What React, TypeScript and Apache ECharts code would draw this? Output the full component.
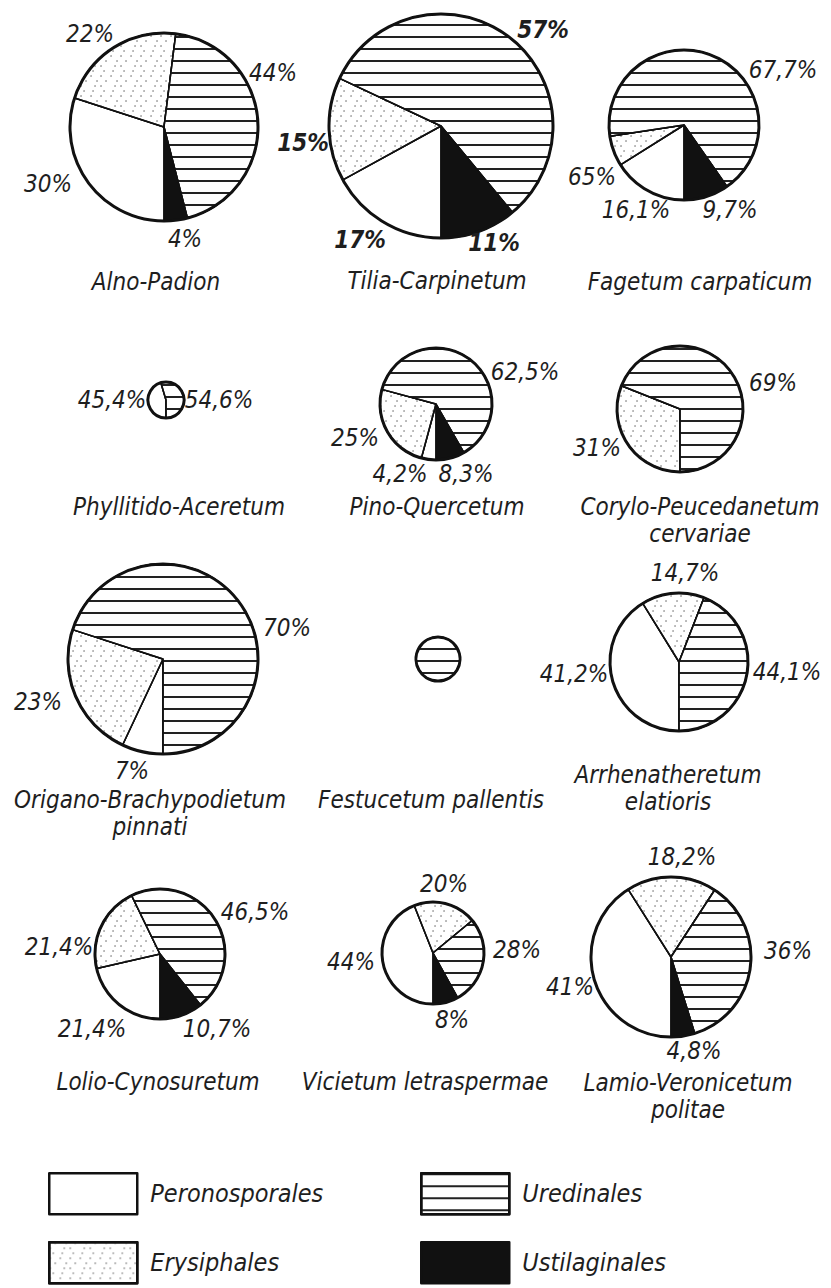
import React, { useEffect, useRef } from 'react';
import * as echarts from 'echarts';

// ---------------- data ----------------
const CATEGORIES = ['Peronosporales', 'Erysiphales', 'Uredinales', 'Ustilaginales'];

const COMMUNITIES = [
  'Alno-Padion',
  'Tilia-Carpinetum',
  'Fagetum carpaticum',
  'Phyllitido-Aceretum',
  'Pino-Quercetum',
  'Corylo-Peucedanetum\ncervariae',
  'Origano-Brachypodietum\npinnati',
  'Festucetum pallentis',
  'Arrhenatheretum\nelatioris',
  'Lolio-Cynosuretum',
  'Vicietum letraspermae',
  'Lamio-Veronicetum\npolitae',
];

const PERONOSPORALES = [30, 17, 16.1, 45.4, 4.2, 0, 7, 0, 41.2, 21.4, 44, 41];
const ERYSIPHALES = [22, 15, 6.5, 0, 25, 31, 23, 0, 14.7, 21.4, 20, 18.2];
const UREDINALES = [44, 57, 67.7, 54.6, 62.5, 69, 70, 100, 44.1, 46.5, 28, 36];
const USTILAGINALES = [4, 11, 9.7, 0, 8.3, 0, 0, 0, 0, 10.7, 8, 4.8];

const PERONOSPORALES_TEXT = ['30%', '17%', '16,1%', '45,4%', '4,2%', '', '7%', '', '41,2%', '21,4%', '44%', '41%'];
const ERYSIPHALES_TEXT = ['22%', '15%', '65%', '', '25%', '31%', '23%', '', '14,7%', '21,4%', '20%', '18,2%'];
const UREDINALES_TEXT = ['44%', '57%', '67,7%', '54,6%', '62,5%', '69%', '70%', '', '44,1%', '46,5%', '28%', '36%'];
const USTILAGINALES_TEXT = ['4%', '11%', '9,7%', '', '8,3%', '', '', '', '', '10,7%', '8%', '4,8%'];

// ---------------- layout (positions / sizes) ----------------
const PIES = [
  { cx: 164, cy: 127, r: 94, bold: false },
  { cx: 441, cy: 126, r: 112, bold: true },
  { cx: 684, cy: 125, r: 75, bold: false },
  { cx: 166, cy: 400, r: 18, bold: false },
  { cx: 436, cy: 404, r: 56, bold: false },
  { cx: 680, cy: 409, r: 63, bold: false },
  { cx: 163, cy: 659, r: 95, bold: false },
  { cx: 438, cy: 659, r: 22, bold: false },
  { cx: 679, cy: 662, r: 69, bold: false },
  { cx: 160, cy: 954, r: 65, bold: false },
  { cx: 433, cy: 953, r: 51, bold: false },
  { cx: 671, cy: 957, r: 80, bold: false },
];

// label centres per pie, in category order
const LABEL_AT = [
  [[48, 184], [90, 34], [273, 73], [185, 239]],
  [[360, 240], [303, 143], [543, 30], [494, 243]],
  [[636, 210], [592, 177], [783, 70], [730, 210]],
  [[112, 400], null, [219, 400], null],
  [[400, 474], [355, 438], [525, 372], [466, 474]],
  [null, [597, 448], [773, 383], null],
  [[132, 771], [38, 702], [287, 628], null],
  [null, null, null, null],
  [[574, 674], [685, 573], [787, 672], null],
  [[92, 1029], [59, 947], [255, 912], [217, 1029]],
  [[351, 962], [444, 884], [517, 950], [452, 1020]],
  [[570, 987], [682, 857], [788, 951], [694, 1051]],
];

// first-line centre of each community name
const NAME_AT = [
  [156, 282], [437, 281], [700, 282],
  [179, 507], [437, 507], [700, 507],
  [150, 800], [431, 800], [668, 775],
  [158, 1082], [425, 1082], [688, 1083],
];

const LEGEND_AT = [[48, 1172], [48, 1241], [420, 1172], [420, 1241]];

const FONT = "'DejaVu Sans Condensed', 'Liberation Sans Narrow', 'DejaVu Sans', sans-serif";
const INK = '#1e1e1e';

const HATCH = {
  symbol: 'rect',
  symbolSize: 1,
  symbolKeepAspect: false,
  color: '#222',
  dashArrayX: [20, 0],
  dashArrayY: [1.5, 9.5],
  rotation: 0,
};
const DOTS = {
  symbol: 'circle',
  symbolSize: 0.7,
  symbolKeepAspect: true,
  color: '#555',
  dashArrayX: [[2, 8, 2, 8], [0, 5, 2, 9, 2, 2], [2, 12, 2, 4], [0, 3, 2, 7, 2, 6]],
  dashArrayY: [2, 3],
  rotation: 0,
};

const CATEGORY_STYLE: any[] = [
  { color: '#ffffff' },
  { color: '#ffffff', decal: DOTS },
  { color: '#ffffff', decal: HATCH },
  { color: '#111111' },
];

const VALUES = [PERONOSPORALES, ERYSIPHALES, UREDINALES, USTILAGINALES];
const TEXTS = [PERONOSPORALES_TEXT, ERYSIPHALES_TEXT, UREDINALES_TEXT, USTILAGINALES_TEXT];

function buildOption() {
  const series: any[] = [];
  PIES.forEach((p, k) => {
    const items: any[] = [];
    const pos: any[] = [];
    CATEGORIES.forEach((c, j) => {
      const v = VALUES[j][k];
      if (!v) return;
      items.push({
        name: c,
        value: v,
        itemStyle: CATEGORY_STYLE[j],
        label: { show: !!TEXTS[j][k], formatter: TEXTS[j][k] || ' ' },
      });
      pos.push(LABEL_AT[k][j]);
    });
    series.push({
      type: 'pie',
      name: COMMUNITIES[k],
      center: [p.cx, p.cy],
      radius: p.r,
      startAngle: -90,
      clockwise: true,
      avoidLabelOverlap: false,
      silent: true,
      emphasis: { disabled: true },
      itemStyle: { borderColor: '#111', borderWidth: 1.5 },
      label: {
        show: true,
        position: 'outside',
        fontSize: 24,
        fontStyle: 'italic',
        fontWeight: p.bold ? 'bold' : 'normal',
        fontFamily: FONT,
        color: INK,
      },
      labelLine: { show: false },
      labelLayout: (params: any) => {
        const q = pos[params.dataIndex];
        return q ? { x: q[0], y: q[1], align: 'center', verticalAlign: 'middle' } : {};
      },
      data: items,
    });
    // outer rim
    series.push({
      type: 'pie',
      center: [p.cx, p.cy],
      radius: p.r,
      silent: true,
      emphasis: { disabled: true },
      label: { show: false },
      labelLine: { show: false },
      itemStyle: { color: 'rgba(0,0,0,0)', borderColor: '#111', borderWidth: 3 },
      data: [{ value: 1, name: 'rim' }],
    });
  });

  const legend = CATEGORIES.map((c, i) => ({
    data: [c],
    left: LEGEND_AT[i][0],
    top: LEGEND_AT[i][1],
    orient: 'horizontal',
    icon: 'rect',
    itemWidth: 88,
    itemHeight: 41,
    padding: 0,
    selectedMode: false,
    itemStyle: { borderColor: '#111', borderWidth: 2.5 },
    textStyle: { fontSize: 25, fontStyle: 'italic', fontFamily: FONT, color: INK, padding: [0, 0, 0, 8] },
  }));

  const graphic = COMMUNITIES.map((n, k) => ({
    type: 'text',
    x: NAME_AT[k][0],
    y: NAME_AT[k][1] - 13.5,
    silent: true,
    style: {
      text: n,
      fontSize: 24,
      fontStyle: 'italic',
      fontFamily: FONT,
      fill: INK,
      align: 'center',
      verticalAlign: 'top',
      lineHeight: 27,
    },
  }));

  return {
    animation: false,
    backgroundColor: '#ffffff',
    legend,
    graphic,
    series,
  };
}

export default function App() {
  const ref = useRef<HTMLDivElement>(null);
  useEffect(() => {
    document.body.style.margin = '0';
    if (!ref.current) return;
    const chart = echarts.init(ref.current, null, { renderer: 'svg' });
    chart.setOption(buildOption() as any);
    return () => chart.dispose();
  }, []);
  return <div ref={ref} style={{ width: 831, height: 1288 }} />;
}
